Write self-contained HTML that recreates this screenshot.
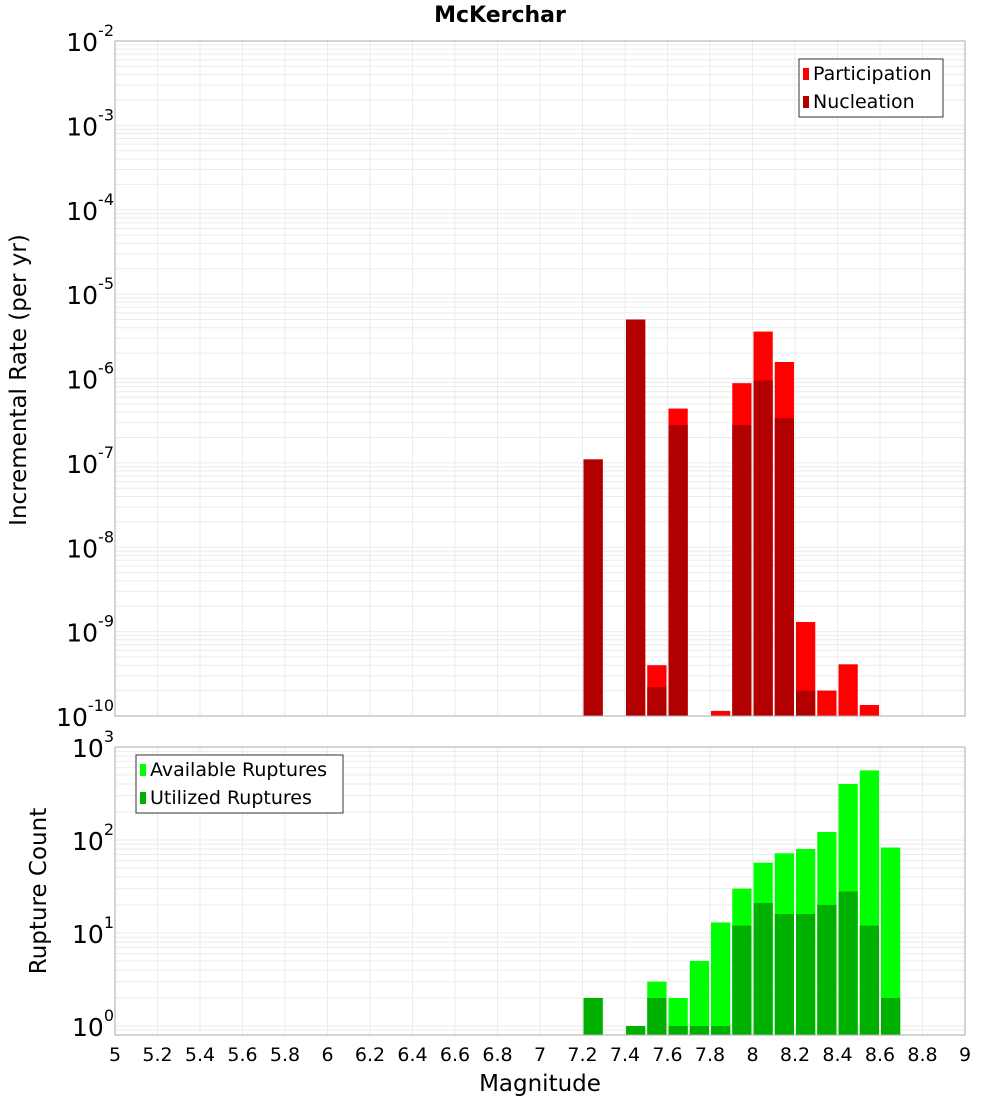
<!DOCTYPE html>
<html><head><meta charset="utf-8"><style>
body{margin:0;background:#fff}
svg{display:block;font-family:"DejaVu Sans","Liberation Sans",sans-serif}
</style></head><body>
<svg id="c" width="1000" height="1100"></svg>
<script>
const mags=[7.2,7.4,7.5,7.6,7.7,7.8,7.9,8.0,8.1,8.2,8.3,8.4,8.5,8.6];
const participation=[1.1e-7,5.0e-6,4.0e-10,4.4e-7,0,1.15e-10,8.8e-7,3.6e-6,1.57e-6,1.3e-9,2.0e-10,4.1e-10,1.35e-10,0];
const nucleation=[1.1e-7,5.0e-6,2.2e-10,2.8e-7,0,0,2.8e-7,9.5e-7,3.4e-7,2.0e-10,0,0,0,0];
const available=[2,1,3,2,5,13,30,57,72,80,122,400,560,83];
const utilized=[2,1,2,1,1,1,12,21,16,16,20,28,12,2];
const xTicks=[5,5.2,5.4,5.6,5.8,6,6.2,6.4,6.6,6.8,7,7.2,7.4,7.6,7.8,8,8.2,8.4,8.6,8.8,9];
const topExps=[-2,-3,-4,-5,-6,-7,-8,-9,-10];
const botExps=[3,2,1,0];

const NS="http://www.w3.org/2000/svg";
const svg=document.getElementById('c');
function el(t,a,p){const e=document.createElementNS(NS,t);for(const k in a)e.setAttribute(k,a[k]);(p||svg).appendChild(e);return e;}
const L=115,R=965;
const x=m=>L+(m-5)*(R-L)/4;
const T={top:41,bot:716,lmax:-2,lmin:-10};
const yT=v=>T.top+(T.lmax-Math.log10(v))*(T.bot-T.top)/(T.lmax-T.lmin);
const B={top:747,bot:1035};
const yB=v=>1026-93*Math.log10(v);

function grid(top,bot,yf,lo,hi){
  const g=el('g',{});
  
  
  for(const t of xTicks){el('line',{x1:x(t),x2:x(t),y1:top,y2:bot,stroke:'#ebebeb','stroke-width':1},g);}
  for(let e=lo;e<=hi;e++)for(let k=1;k<10;k++){const v=k*Math.pow(10,e);const y=yf(v);if(y<top||y>bot)continue;
    el('line',{x1:L,x2:R,y1:y,y2:y,stroke:'#ebebeb','stroke-width':1},g);}
}
grid(T.top,T.bot,yT,-10,-3);
grid(B.top,B.bot,yB,-1,2);

function bars(vals,yf,bot,color,name){
  mags.forEach((m,i)=>{const v=vals[i];if(!v)return;const y=yf(v);
    const r=el('rect',{x:x(m)+1,y:y,width:x(m+0.1)-x(m)-2,height:bot-y,fill:color});
    
    });
}
bars(participation,yT,T.bot,'#ff0000','participation-bar');
bars(nucleation,yT,T.bot,'#b20000','nucleation-bar');
bars(available,yB,B.bot,'#00ff00','available-bar');
bars(utilized,yB,B.bot,'#00b000','utilized-bar');

el('rect',{x:L,y:T.top,width:R-L,height:T.bot-T.top,fill:'none',stroke:'#aaa'});
el('rect',{x:L,y:B.top,width:R-L,height:B.bot-B.top,fill:'none',stroke:'#aaa'});

function ylab(e,y){
  const t=el('text',{x:114,y:y+10,'text-anchor':'end','font-size':25,fill:'#000'});
  
  
  t.appendChild(document.createTextNode('10'));
  const s=el('tspan',{dy:-15,'font-size':16},t);s.textContent=String(e);
}
topExps.forEach(e=>ylab(e,yT(Math.pow(10,e))));
botExps.forEach(e=>ylab(e,yB(Math.pow(10,e))));

xTicks.forEach(t=>{const s=el('text',{x:x(t),y:1061,'text-anchor':'middle','font-size':19,fill:'#000'});
  
  
  s.textContent=String(t);});

const title=el('text',{x:500,y:22,'text-anchor':'middle','font-size':22,'font-weight':'bold'});


title.textContent='McKerchar';
const xt=el('text',{x:540,y:1091,'text-anchor':'middle','font-size':23});


xt.textContent='Magnitude';
const yt1=el('text',{x:0,y:0,'text-anchor':'middle','font-size':23,transform:'translate(26,380) rotate(-90)'});


yt1.textContent='Incremental Rate (per yr)';
const yt2=el('text',{x:0,y:0,'text-anchor':'middle','font-size':23,transform:'translate(46,891) rotate(-90)'});


yt2.textContent='Rupture Count';

function legend(x0,y0,w,items,name){
  const g=el('g',{});
  
  
  el('rect',{x:x0,y:y0,width:w,height:58,fill:'#fff',stroke:'#333'},g);
  items.forEach((it,i)=>{const yy=y0+14+i*28;
    el('rect',{x:x0+4,y:yy-5,width:6,height:12,fill:it[1]},g);
    const t=el('text',{x:x0+14,y:yy+7,'font-size':19},g);t.textContent=it[0];});
}
legend(799,59,144,[['Participation','#ff0000'],['Nucleation','#b20000']],'legend-top');
legend(136,755,207,[['Available Ruptures','#00ff00'],['Utilized Ruptures','#00b000']],'legend-bottom');
</script>
</body></html>
